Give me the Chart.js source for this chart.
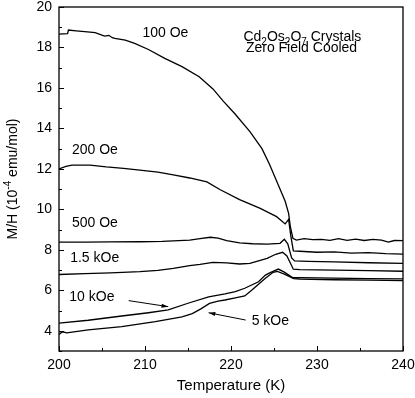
<!DOCTYPE html>
<html>
<head>
<meta charset="utf-8">
<script src="https://cdn.jsdelivr.net/npm/chart.js@4/dist/chart.umd.min.js"></script>
<style>
  html, body { margin: 0; padding: 0; background: #fff; }
  #wrap { width: 415px; height: 398px; }
</style>
</head>
<body>
<div id="wrap"><canvas id="chart" width="415" height="398"></canvas></div>
<script>
(() => {
  'use strict';

  // temperature (K) and M/H (1e-4 emu/mol)
  const t100 = [200, 201, 201.1, 202, 203, 204.2, 205.3, 205.8, 206.2, 206.5, 207.7, 208.8, 210.4, 212.3, 214.3, 216.3, 217.9, 219.1, 220.5, 222.2, 223.6, 224.5, 225.4, 226.3, 226.7, 226.9, 227.2, 227.6, 228.5, 229.5, 230.5, 231.5, 232.5, 233.5, 234.5, 235.5, 236.5, 237.5, 238.3, 239, 240];
  const m100 = [18.66, 18.68, 18.86, 18.82, 18.78, 18.73, 18.56, 18.6, 18.48, 18.45, 18.36, 18.2, 17.9, 17.46, 17.05, 16.55, 15.95, 15.35, 14.7, 13.84, 13.0, 12.2, 11.3, 10.4, 9.8, 9.14, 8.57, 8.48, 8.55, 8.5, 8.52, 8.47, 8.55, 8.47, 8.53, 8.46, 8.52, 8.48, 8.38, 8.46, 8.45];

  const t200 = [200, 200.8, 201.5, 203.6, 205.5, 207.5, 209.4, 211.5, 213.3, 215.2, 217.2, 218.7, 221, 223.4, 225.3, 226.3, 226.7, 226.95, 227.25, 228, 230, 232, 234, 236, 238, 240];
  const m200 = [12.0, 12.12, 12.19, 12.19, 12.1, 12.03, 11.94, 11.84, 11.7, 11.55, 11.36, 10.98, 10.48, 10.05, 9.64, 9.28, 9.5, 8.7, 7.95, 7.93, 7.88, 7.9, 7.84, 7.86, 7.81, 7.79];

  const t500 = [200, 203, 206, 209.4, 212, 215.2, 216.4, 217.6, 218.5, 219.5, 221, 222.5, 224.2, 225.7, 226.2, 226.6, 227.05, 227.4, 229, 232, 236, 240];
  const m500 = [8.38, 8.38, 8.39, 8.4, 8.42, 8.48, 8.55, 8.62, 8.58, 8.46, 8.34, 8.3, 8.28, 8.32, 8.52, 8.3, 7.6, 7.45, 7.43, 7.4, 7.36, 7.33];

  const t1k5 = [200, 203, 206, 209.4, 211.5, 213.3, 215.2, 216.4, 217.9, 219.5, 221, 222.2, 224.2, 225.2, 226.0, 226.5, 227.25, 228, 232, 236, 240];
  const m1k5 = [6.78, 6.82, 6.86, 6.92, 6.98, 7.08, 7.22, 7.28, 7.38, 7.36, 7.3, 7.33, 7.58, 7.78, 7.88, 7.7, 7.04, 7.02, 7.0, 6.97, 6.94];

  const t10k = [200, 203.4, 207.3, 210.4, 212.7, 215, 217.4, 219.3, 220.5, 221.6, 223.2, 224, 224.5, 225.5, 226.2, 227.2, 228, 232, 236, 240];
  const m10k = [4.38, 4.52, 4.73, 4.89, 5.03, 5.36, 5.68, 5.82, 5.93, 6.1, 6.42, 6.75, 6.86, 7.05, 6.9, 6.62, 6.63, 6.6, 6.58, 6.56];

  const t5k = [200, 200.4, 200.9, 203.4, 207.3, 211.2, 214.3, 215.5, 216.5, 217.5, 218.5, 219.3, 220.5, 221.6, 222.4, 223.2, 224, 224.9, 225.4, 226.2, 227.3, 228, 232, 236, 240];
  const m5k = [3.82, 3.95, 3.9, 4.04, 4.2, 4.45, 4.69, 4.85, 5.08, 5.35, 5.47, 5.52, 5.62, 5.72, 6.0, 6.3, 6.6, 6.89, 6.93, 6.8, 6.58, 6.55, 6.52, 6.5, 6.48];

  const seriesNames = ['100 Oe', '200 Oe', '500 Oe', '1.5 kOe', '10 kOe', '5 kOe'];
  const seriesT = [t100, t200, t500, t1k5, t10k, t5k];
  const seriesM = [m100, m200, m500, m1k5, m10k, m5k];

  const xTicks = [200, 210, 220, 230, 240];
  const yTicks = [4, 6, 8, 10, 12, 14, 16, 18, 20];

  // text placed in data coordinates
  const notes = [
    { text: '100 Oe', x: 209.7, y: 18.7 },
    { text: '200 Oe', x: 201.5, y: 12.93 },
    { text: '500 Oe', x: 201.5, y: 9.3 },
    { text: '1.5 kOe', x: 201.3, y: 7.6 },
    { text: '10 kOe', x: 201.2, y: 5.64 },
    { text: '5 kOe', x: 222.4, y: 4.48 },
  ];
  const arrows = [
    { from: [208.1, 5.49], to: [212.7, 5.19] },
    { from: [221.7, 4.53], to: [217.4, 4.89] },
  ];

  const FONT = '"Liberation Sans", Arial, Helvetica, sans-serif';

  function zip(ts, ms) { return ts.map((t, i) => ({ x: t, y: ms[i] })); }

  function drawRich(ctx, parts, x, y, size, align) {
    const small = Math.round(size * 0.7);
    const widths = parts.map(([s, kind]) => {
      ctx.font = `${kind ? small : size}px ${FONT}`;
      return ctx.measureText(s).width;
    });
    const total = widths.reduce((a, b) => a + b, 0);
    let cx = align === 'center' ? x - total / 2 : x;
    ctx.textAlign = 'left';
    ctx.textBaseline = 'middle';
    parts.forEach(([s, kind], i) => {
      ctx.font = `${kind ? small : size}px ${FONT}`;
      const dy = kind === 'sub' ? size * 0.35 : kind === 'sup' ? -size * 0.35 : 0;
      ctx.fillText(s, cx, y + dy);
      cx += widths[i];
    });
  }

  const framePlugin = {
    id: 'frame',
    afterDatasetsDraw(chart) {
      const { ctx, chartArea: a, scales: { x, y } } = chart;
      ctx.save();
      ctx.fillStyle = '#000';
      ctx.strokeStyle = '#000';

      // field labels
      ctx.font = `14px ${FONT}`;
      ctx.textAlign = 'left';
      ctx.textBaseline = 'middle';
      notes.forEach(n => ctx.fillText(n.text, x.getPixelForValue(n.x), y.getPixelForValue(n.y)));

      drawRich(ctx, [['Cd'], ['2', 'sub'], ['Os'], ['2', 'sub'], ['O'], ['7', 'sub'], [' Crystals']],
        x.getPixelForValue(228.3), y.getPixelForValue(18.5), 14, 'center');
      ctx.font = `14px ${FONT}`;
      ctx.textAlign = 'center';
      ctx.fillText('Zero Field Cooled', x.getPixelForValue(228.2), y.getPixelForValue(17.95));

      // arrows
      ctx.lineWidth = 1;
      arrows.forEach(ar => {
        const x0 = x.getPixelForValue(ar.from[0]), y0 = y.getPixelForValue(ar.from[1]);
        const x1 = x.getPixelForValue(ar.to[0]), y1 = y.getPixelForValue(ar.to[1]);
        const ang = Math.atan2(y1 - y0, x1 - x0);
        ctx.beginPath(); ctx.moveTo(x0, y0); ctx.lineTo(x1, y1); ctx.stroke();
        ctx.beginPath();
        ctx.moveTo(x1, y1);
        ctx.lineTo(x1 - 7 * Math.cos(ang - 0.3), y1 - 7 * Math.sin(ang - 0.3));
        ctx.lineTo(x1 - 7 * Math.cos(ang + 0.3), y1 - 7 * Math.sin(ang + 0.3));
        ctx.closePath(); ctx.fill();
      });

      // box and inward ticks
      ctx.lineWidth = 1.3;
      ctx.strokeRect(a.left, a.top, a.right - a.left, a.bottom - a.top);
      ctx.lineWidth = 1;
      ctx.beginPath();
      for (let v = x.min; v <= x.max; v += 5) {
        const px = Math.round(x.getPixelForValue(v)) + 0.5;
        const len = v % 10 === 0 ? 5 : 3;
        ctx.moveTo(px, a.bottom); ctx.lineTo(px, a.bottom - len);
      }
      for (let v = Math.ceil(y.min); v <= y.max; v += 1) {
        const py = Math.round(y.getPixelForValue(v)) + 0.5;
        const len = v % 2 === 0 ? 5 : 3;
        ctx.moveTo(a.left, py); ctx.lineTo(a.left + len, py);
      }
      ctx.stroke();

      // y axis title with superscript
      ctx.translate(13, (a.top + a.bottom) / 2);
      ctx.rotate(-Math.PI / 2);
      drawRich(ctx, [['M/H (10'], ['-4', 'sup'], [' emu/mol)']], 0, 0, 14, 'center');
      ctx.restore();
    },
  };

  new Chart(document.getElementById('chart'), {
    type: 'line',
    data: {
      datasets: seriesNames.map((name, i) => ({
        label: name,
        data: zip(seriesT[i], seriesM[i]),
        borderColor: '#000',
        borderWidth: 1.3,
        pointRadius: 0,
        tension: 0,
        fill: false,
      })),
    },
    options: {
      responsive: false,
      animation: false,
      layout: { padding: { top: 7, right: 12, left: 0, bottom: 0 } },
      plugins: { legend: { display: false }, tooltip: { enabled: false } },
      scales: {
        x: {
          type: 'linear', min: 200, max: 240,
          afterFit: s => { s.height = 47; s.paddingLeft = 0; s.paddingRight = 0; },
          afterBuildTicks: s => { s.ticks = xTicks.map(v => ({ value: v })); },
          grid: { display: false, drawTicks: false },
          border: { display: false },
          ticks: { color: '#000', font: { family: FONT, size: 14 }, padding: 6, maxRotation: 0 },
          title: { display: true, text: 'Temperature (K)', color: '#000', font: { family: FONT, size: 15 }, padding: { top: 0, bottom: 3 } },
        },
        y: {
          type: 'linear', min: 3, max: 20,
          afterFit: s => { s.width = 59; s.paddingTop = 0; s.paddingBottom = 0; },
          afterBuildTicks: s => { s.ticks = yTicks.map(v => ({ value: v })); },
          grid: { display: false, drawTicks: false },
          border: { display: false },
          ticks: { color: '#000', font: { family: FONT, size: 14 }, padding: 7 },
        },
      },
    },
    plugins: [framePlugin],
  });
})();
</script>
</body>
</html>
